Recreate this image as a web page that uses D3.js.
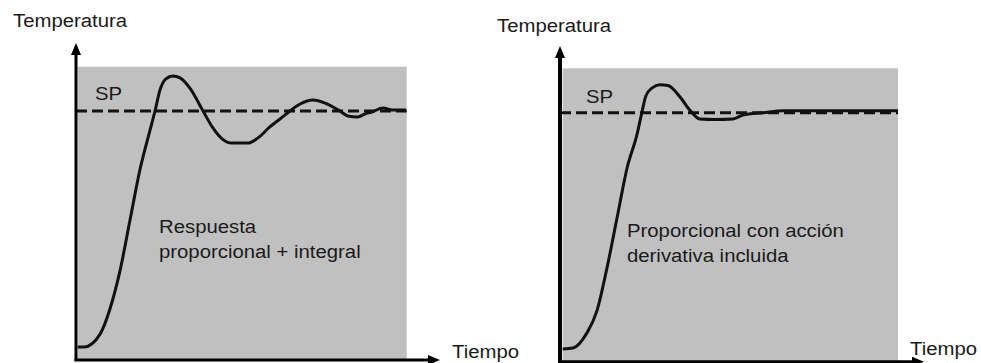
<!DOCTYPE html>
<html>
<head>
<meta charset="utf-8">
<script src="https://cdn.jsdelivr.net/npm/d3@7"></script>
<style>
  html, body { margin: 0; padding: 0; background: #ffffff; }
  svg { display: block; }
  text { font-family: "Liberation Sans", Arial, sans-serif; fill: #1a1a1a; }
</style>
</head>
<body>
<svg id="chart" width="981" height="363"></svg>
<script>
// Time axis (arbitrary units 0..100) and temperature (set point = 100)
const setPoint = 100;

// Proportional + integral response
const piTime = [0, 1.9, 6.8, 9.8, 12.9, 15.9, 18.9, 22.0, 23.5, 25.0, 26.8, 28.9, 31.1, 34.1, 38.1, 41.1, 43.9, 46.9, 51.8, 54.8, 58.4, 61.5, 64.5, 67.6, 71.5, 75.2, 79.7, 82.1, 84.9, 87.3, 89.4, 92.8, 95.6, 97.9, 99.8];
const piTemp = [5.2, 5.2, 10.4, 20.5, 36.1, 56.2, 76.3, 92.4, 100, 108.4, 112.9, 114.1, 113.3, 109.2, 100, 93.2, 88.8, 87.1, 87.1, 89.2, 93.6, 96.8, 100, 102.8, 104.4, 103.2, 100, 98.0, 97.6, 98.8, 99.6, 101.2, 100.4, 100.4, 100.4];

// Proportional response with derivative action
const pdTime = [0, 3.1, 7.2, 10.2, 13.2, 16.2, 19.2, 22.2, 23.6, 24.8, 26.6, 29.0, 31.4, 35.0, 37.9, 40.9, 45.4, 50.8, 53.8, 59.8, 65.7, 100];
const pdTemp = [5.1, 5.5, 11.5, 20.4, 37.6, 57.7, 77.8, 91.5, 100, 106.7, 109.9, 111.2, 110.9, 106.3, 101.1, 97.5, 97.3, 97.5, 99.1, 100, 100.8, 100.8];

const yLabel = "Temperatura";
const xLabel = "Tiempo";
const spLabel = "SP";
const captionPI = ["Respuesta", "proporcional + integral"];
const captionPD = ["Proporcional con acción", "derivativa incluida"];

const svg = d3.select("#chart");

const panels = [
  {
    time: piTime, temp: piTemp, caption: captionPI,
    x0: 77.7, x1: 406.7, yBase: 360, ySP: 111, top: 66.7,
    axisX: 76, axisW: 3, arrowY: 43, arrowX: 440,
    yLab: [13, 27], spLab: [95, 100], capLab: [159, 233], xLab: [452, 358]
  },
  {
    time: pdTime, temp: pdTemp, caption: captionPD,
    x0: 562.7, x1: 898, yBase: 361.7, ySP: 112.7, top: 68.3,
    axisX: 560, axisW: 4, arrowY: 46, arrowX: 924,
    yLab: [497, 32], spLab: [586, 103], capLab: [627, 237], xLab: [910, 355]
  }
];

const textStretch = 1.13;
function label(g, str, x, y) {
  g.append("text")
    .attr("transform", `translate(${x},${y}) scale(${textStretch},1)`)
    .attr("font-size", 18)
    .text(str);
}

panels.forEach(p => {
  const x = d3.scaleLinear().domain([0, 100]).range([p.x0, p.x1]);
  const y = d3.scaleLinear().domain([0, setPoint]).range([p.yBase, p.ySP]);
  const g = svg.append("g");

  // plotting background
  g.append("rect")
    .attr("x", p.x0).attr("y", p.top)
    .attr("width", p.x1 - p.x0).attr("height", p.yBase - p.top)
    .attr("fill", "#c0c0c0");

  // set-point reference
  g.append("line")
    .attr("x1", p.axisX).attr("x2", p.x1)
    .attr("y1", y(setPoint)).attr("y2", y(setPoint))
    .attr("stroke", "#111").attr("stroke-width", 3)
    .attr("stroke-dasharray", "11,5");

  // response curve
  const line = d3.line()
    .x((d, i) => x(p.time[i]))
    .y(d => y(d))
    .curve(d3.curveMonotoneX);
  g.append("path")
    .attr("d", line(p.temp))
    .attr("fill", "none")
    .attr("stroke", "#111")
    .attr("stroke-width", 3)
    .attr("stroke-linejoin", "round");

  // axes with arrowheads
  g.append("line")
    .attr("x1", p.axisX).attr("x2", p.axisX)
    .attr("y1", p.yBase + 1).attr("y2", p.arrowY + 6)
    .attr("stroke", "#000").attr("stroke-width", p.axisW);
  g.append("path")
    .attr("d", `M${p.axisX},${p.arrowY} L${p.axisX - 5},${p.arrowY + 12} L${p.axisX + 5},${p.arrowY + 12} Z`)
    .attr("fill", "#000");
  g.append("line")
    .attr("x1", p.axisX - p.axisW / 2).attr("x2", p.arrowX - 6)
    .attr("y1", p.yBase).attr("y2", p.yBase)
    .attr("stroke", "#000").attr("stroke-width", 3);
  g.append("path")
    .attr("d", `M${p.arrowX},${p.yBase} L${p.arrowX - 12},${p.yBase - 5} L${p.arrowX - 12},${p.yBase + 5} Z`)
    .attr("fill", "#000");

  // labels
  label(g, yLabel, p.yLab[0], p.yLab[1]);
  label(g, spLabel, p.spLab[0], p.spLab[1]);
  label(g, p.caption[0], p.capLab[0], p.capLab[1]);
  label(g, p.caption[1], p.capLab[0], p.capLab[1] + 25);
  label(g, xLabel, p.xLab[0], p.xLab[1]);
});
</script>
</body>
</html>
